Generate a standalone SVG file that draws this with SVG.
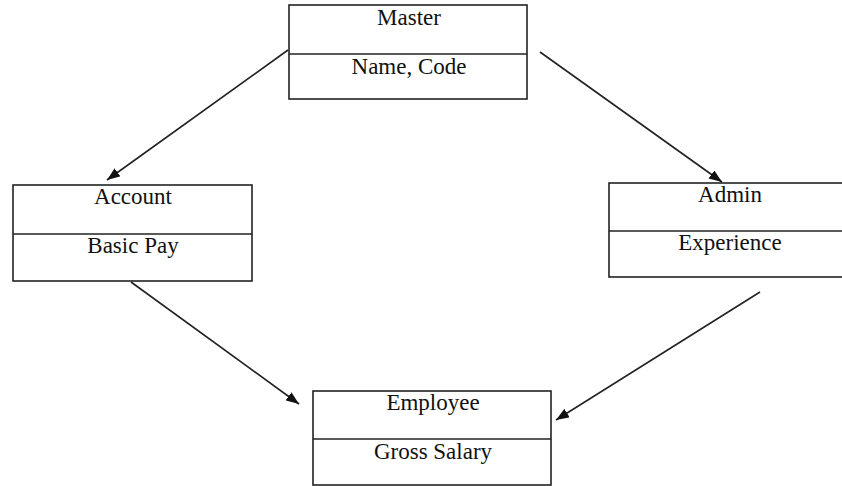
<svg xmlns="http://www.w3.org/2000/svg" width="842" height="486" viewBox="0 0 842 486">
<style>
.box{fill:#fff;stroke:#222;stroke-width:1.6}
.div{stroke:#222;stroke-width:1.6}
.t{font-family:"Liberation Serif","Times New Roman",serif;font-size:23px;fill:#111;text-anchor:middle}
.c{stroke:#222;stroke-width:1.6;fill:none;marker-end:url(#ah)}
</style>
<defs>
<marker id="ah" markerUnits="userSpaceOnUse" markerWidth="13" markerHeight="10" refX="13" refY="5" orient="auto">
<path d="M0,0 L13,5 L0,10 z" fill="#111"/>
</marker>
</defs>
<rect width="842" height="486" fill="#fff"/>
<g id="connectors">
<line class="c" x1="288" y1="50" x2="107" y2="180"/>
<line class="c" x1="540" y1="52" x2="722" y2="182"/>
<line class="c" x1="131" y1="282" x2="299" y2="404"/>
<line class="c" x1="760" y1="292" x2="556" y2="420"/>
</g>
<g id="master">
<rect class="box" x="289" y="5" width="238" height="94"/>
<line class="div" x1="289" y1="54" x2="527" y2="54"/>
<text class="t" x="409" y="25">Master</text>
<text class="t" x="409" y="74">Name, Code</text>
</g>
<g id="account">
<rect class="box" x="13" y="185" width="239" height="96"/>
<line class="div" x1="13" y1="234" x2="252" y2="234"/>
<text class="t" x="133" y="204">Account</text>
<text class="t" x="133" y="253">Basic Pay</text>
</g>
<g id="admin">
<rect class="box" x="609" y="183" width="242" height="94"/>
<line class="div" x1="609" y1="231" x2="851" y2="231"/>
<text class="t" x="730" y="202">Admin</text>
<text class="t" x="730" y="250">Experience</text>
</g>
<g id="employee">
<rect class="box" x="313" y="391" width="238" height="94"/>
<line class="div" x1="313" y1="439" x2="551" y2="439"/>
<text class="t" x="433" y="410">Employee</text>
<text class="t" x="433" y="459">Gross Salary</text>
</g>
</svg>
